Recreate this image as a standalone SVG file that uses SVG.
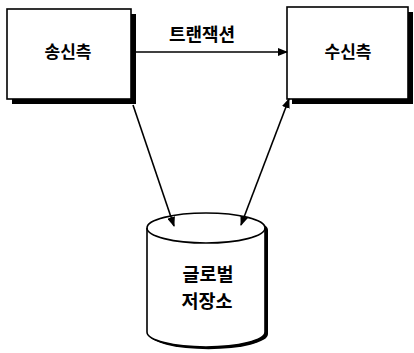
<svg xmlns="http://www.w3.org/2000/svg" width="414" height="353" viewBox="0 0 414 353">
<style>
.box{fill:#fff;stroke:#000;stroke-width:1.6}
.shadow{fill:#000}
.lbl{font-family:"Noto Sans CJK KR","Noto Sans",sans-serif;font-weight:bold;font-size:17px;text-anchor:middle;fill:#000}
.conn{stroke:#000;stroke-width:1.6;fill:none}
</style>
<defs>
<marker id="ah" markerWidth="10" markerHeight="8" refX="9" refY="4" orient="auto" markerUnits="userSpaceOnUse">
<path d="M0,0 L10,4 L0,8 Z" fill="#000"/>
</marker>
<marker id="ahs" markerWidth="10" markerHeight="8" refX="1" refY="4" orient="auto" markerUnits="userSpaceOnUse">
<path d="M10,0 L0,4 L10,8 Z" fill="#000"/>
</marker>
</defs>
<g id="sender">
<rect class="shadow" x="12" y="14" width="124" height="90"/>
<rect class="box" x="7" y="9" width="124" height="90"/>
<text class="lbl" x="68" y="58">송신측</text>
</g>
<g id="receiver">
<rect class="shadow" x="292" y="12" width="121" height="92"/>
<rect class="box" x="287" y="7" width="121" height="92"/>
<text class="lbl" x="348" y="58">수신측</text>
</g>
<g id="storage">
<path class="shadow" d="M149,230 A59,15 0 0 1 268,230 L268,334 A59,15 0 0 1 149,334 Z"/>
<path d="M147,228 L147,332 A59,15 0 0 0 265,332 L265,228 A59,15 0 0 0 147,228 Z" fill="#fff" stroke="#000" stroke-width="1.6"/>
<path d="M147,228 A59,15 0 0 0 265,228" fill="none" stroke="#000" stroke-width="1.6"/>
<text class="lbl" x="208" y="281" style="font-size:18.5px">글로벌</text>
<text class="lbl" x="207" y="308" style="font-size:18.5px">저장소</text>
</g>
<g id="connectors">
<line class="conn" x1="136" y1="52" x2="287" y2="52" marker-end="url(#ah)"/>
<text class="lbl" x="202" y="41" style="font-size:18px">트랜잭션</text>
<line class="conn" x1="133" y1="105" x2="174" y2="226" marker-end="url(#ah)"/>
<line class="conn" x1="289" y1="99" x2="241" y2="225" marker-start="url(#ahs)" marker-end="url(#ah)"/>
</g>
</svg>
